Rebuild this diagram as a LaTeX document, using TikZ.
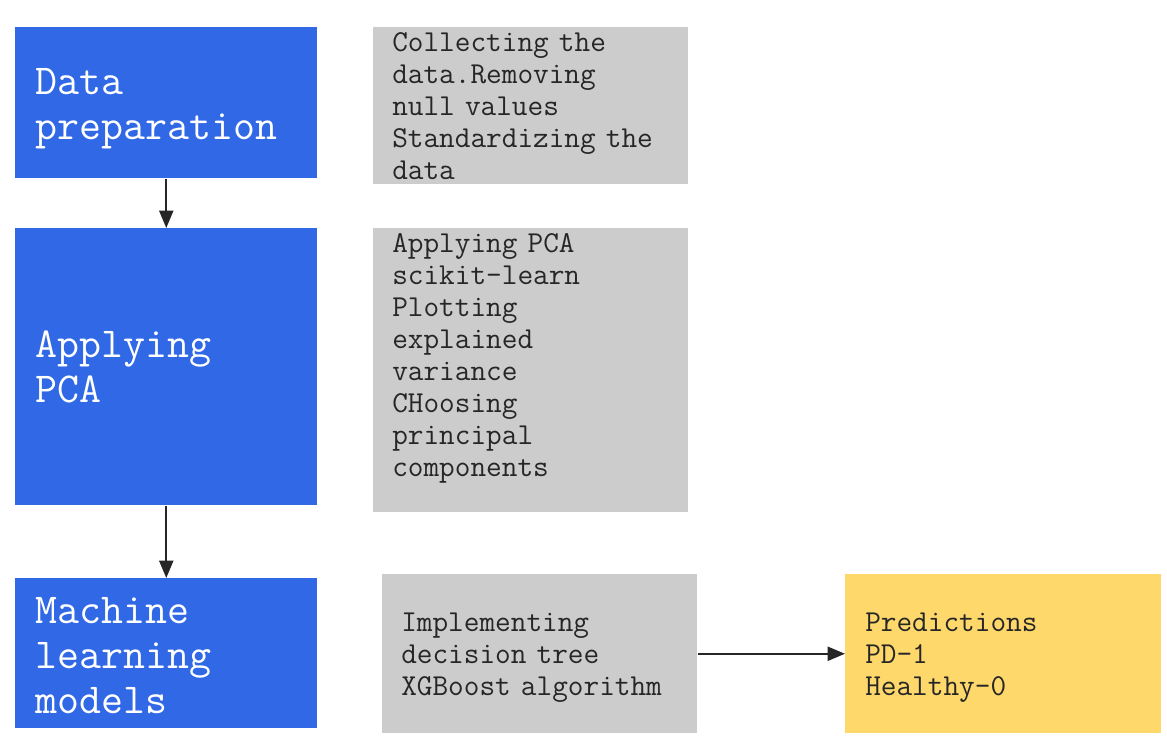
\documentclass[tikz,border=0pt]{standalone}
\usepackage{fontspec}
\usetikzlibrary{positioning,calc,arrows.meta}
\definecolor{flowBlueFill}{HTML}{3068E6}
\definecolor{flowGreyFill}{HTML}{CCCCCC}
\definecolor{flowYellowFill}{HTML}{FFD86C}
\newcommand{\fixspace}{\spaceskip=0.525em\relax\xspaceskip=0.525em\relax}
\tikzset{
  phase box/.style={
    rectangle, anchor=north west,
    fill=flowBlueFill, text=white,
    font=\ttfamily\fontsize{32}{33.75}\selectfont\fixspace,
    align=left, inner xsep=15pt, inner ysep=0pt,
    text width=196.5pt, minimum width=226.5pt,
  },
  detail box/.style={
    rectangle, anchor=north west,
    fill=flowGreyFill, text=black!85,
    font=\ttfamily\fontsize{22.8}{24}\selectfont\fixspace,
    align=left, inner xsep=14.25pt, inner ysep=0pt,
    text width=207.75pt, minimum width=236.25pt,
  },
  result box/.style={
    detail box, fill=flowYellowFill,
    inner xsep=15pt, text width=207pt, minimum width=237pt,
  },
  flow arrow/.style={
    -{Triangle[length=13pt, width=10.5pt]},
    line width=1.5pt, color=black!85,
  },
}

\begin{document}
\begin{tikzpicture}[x=0.75pt, y=-0.75pt]

\useasboundingbox (0,0) rectangle (1167,739);

% --- PHASES ---
\node[phase box, text height=50.25pt, text depth=63pt] (prep) at (15,27)
  {Data\\preparation};
\node[phase box, text height=96.75pt, text depth=111pt] (pca) at (15,228)
  {Applying\\PCA};
\node[phase box, text height=33.75pt, text depth=78.75pt] (models) at (15,578)
  {Machine\\learning\\models};

% --- DETAILS ---
\node[detail box, text height=18pt, text depth=99.75pt] (prepNote) at (373,27)
  {Collecting the\\data.Removing\\null values\\Standardizing the\\data};
\node[detail box, text height=18pt, text depth=195pt] (pcaNote) at (373,228)
  {Applying PCA\\scikit-learn\\Plotting\\explained\\variance\\CHoosing\\principal\\components};
\node[detail box, text height=42.75pt, text depth=76.5pt] (modelNote) at (382,574)
  {Implementing\\decision tree\\XGBoost algorithm};
\node[result box, text height=42.75pt, text depth=76.5pt] (pred) at (845,574)
  {Predictions\\PD-1\\Healthy-0};

% --- ARROWS ---
\draw[flow arrow] (prep.south) -- (pca.north);
\draw[flow arrow] (pca.south) -- (models.north);
\draw[flow arrow] (modelNote.east) -- (pred.west);

\end{tikzpicture}
\end{document}
